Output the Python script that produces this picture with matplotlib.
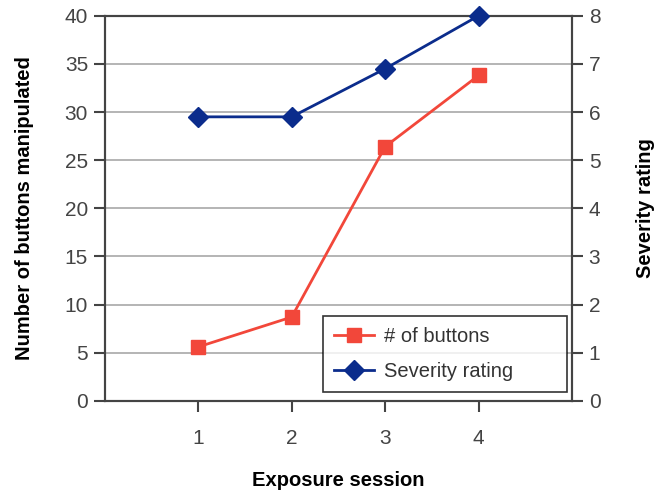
import matplotlib.pyplot as plt

# Data
sessions = [1, 2, 3, 4]
buttons = [5.6, 8.7, 26.4, 33.8]
severity = [5.9, 5.9, 6.9, 8.0]

plt.rcParams['font.family'] = ['Liberation Sans', 'DejaVu Sans']

fig = plt.figure(figsize=(6.59, 4.93), dpi=100)
ax = fig.add_axes([0.159, 0.187, 0.709, 0.781])
ax2 = ax.twinx()

red = '#F2473A'
blue = '#0B2C8C'

l1, = ax.plot(sessions, buttons, color=red, lw=2, marker='s', ms=10,
              label='# of buttons', zorder=3)
l2, = ax2.plot(sessions, severity, color=blue, lw=2, marker='D', ms=10,
               label='Severity rating', zorder=3, clip_on=False)

ax.set_xlim(0, 5)
ax.set_ylim(0, 40)
ax2.set_ylim(0, 8)
ax.set_xticks(sessions)
ax.set_yticks(range(0, 41, 5))
ax2.set_yticks(range(0, 9))

ax.yaxis.grid(True, color='#A8A8A8', lw=1.2)
ax.set_axisbelow(True)

for a in (ax, ax2):
    for s in a.spines.values():
        s.set_color('#444444')
        s.set_linewidth(1.5)
    a.tick_params(direction='out', length=8, width=1.5, color='#444444',
                  labelsize=15, labelcolor='#444444', pad=4)
ax.tick_params(axis='x', pad=12)

ax.set_xlabel('Exposure session', fontsize=14.5, fontweight='bold')
ax.set_ylabel('Number of buttons manipulated', fontsize=14.5, fontweight='bold')
ax2.set_ylabel('Severity rating', fontsize=14.5, fontweight='bold')
ax.xaxis.set_label_coords(0.5, -0.182)
ax.yaxis.set_label_coords(-0.152, 0.5)
ax2.yaxis.set_label_coords(1.137, 0.5)

leg = ax2.legend(handles=[l1, l2], loc='lower left', mode='expand',
                 fontsize=14.5, frameon=True, fancybox=False,
                 edgecolor='black', borderpad=0.55, handlelength=2.0,
                 handletextpad=0.5, labelspacing=0.8, borderaxespad=0,
                 bbox_to_anchor=(0.467, 0.023, 0.522, 0.2))
leg.get_frame().set_linewidth(1.2)
for t in leg.get_texts():
    t.set_color('#333333')

fig.savefig('out.png', dpi=100)
